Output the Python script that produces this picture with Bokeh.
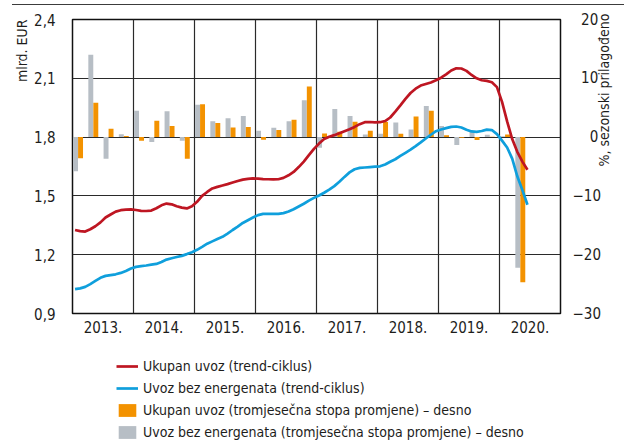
import math
from bokeh.plotting import figure
from bokeh.models import (Range1d, LinearAxis, FixedTicker, CustomJSTickFormatter,
                          Legend, LegendItem, ColumnDataSource, Div)
from bokeh.layouts import column
from bokeh.embed import file_html
from bokeh.resources import INLINE

FONT = "Liberation Sans Narrow, DejaVu Sans Condensed, Roboto Condensed, Liberation Sans, sans-serif"

# ---------------- data ----------------
years = [2013, 2014, 2015, 2016, 2017, 2018, 2019, 2020]
year_labels = ["2013.", "2014.", "2015.", "2016.", "2017.", "2018.", "2019.", "2020."]

# quarterly rate of change (%, right axis), 2013Q1 .. 2020Q2
quarters = [f"{y}Q{q}" for y in years for q in range(1, 5)][:30]
ukupan_q = [-3.6, 5.85, 1.4, 0.2,
            -0.6, 2.8, 1.9, -3.7,
            5.6, 2.4, 1.65, 1.7,
            -0.45, 1.2, 2.95, 8.6,
            0.6, 0.9, 2.6, 1.1,
            2.55, 0.55, 3.5, 4.5,
            0.3, -0.1, -0.5, 0.05,
            0.45, -24.7]
bez_energ_q = [-5.8, 14.0, -3.7, 0.5,
               4.5, -0.85, 4.4, -0.6,
               5.5, 2.7, 3.2, 3.6,
               1.1, 1.6, 2.7, 6.25,
               -1.8, 4.8, 3.6, 0.45,
               0.55, 2.5, 1.3, 5.3,
               1.9, -1.35, 1.0, 0.4,
               0.15, -22.2]

# monthly trend-cycle (mlrd. EUR, left axis), Jan 2013 .. Jun 2020
ukupan_trend = [1.326, 1.320, 1.318, 1.330, 1.345, 1.365, 1.390, 1.405, 1.420, 1.427, 1.430, 1.431,
                1.428, 1.424, 1.423, 1.425, 1.437, 1.452, 1.461, 1.457, 1.447, 1.440, 1.436, 1.447,
                1.470, 1.500, 1.520, 1.538, 1.546, 1.553, 1.560, 1.568, 1.576, 1.583, 1.587, 1.589,
                1.588, 1.586, 1.585, 1.584, 1.585, 1.592, 1.605, 1.622, 1.647, 1.675, 1.708, 1.740,
                1.767, 1.790, 1.802, 1.810, 1.820, 1.830, 1.840, 1.852, 1.866, 1.876, 1.877, 1.875,
                1.876, 1.882, 1.900, 1.930, 1.962, 1.995, 2.025, 2.047, 2.063, 2.071, 2.079, 2.090,
                2.103, 2.120, 2.140, 2.151, 2.150, 2.138, 2.117, 2.100, 2.090, 2.087, 2.080, 2.055,
                1.980, 1.880, 1.790, 1.725, 1.675, 1.633]
bez_energ_trend = [1.024, 1.028, 1.036, 1.050, 1.066, 1.082, 1.092, 1.096, 1.100, 1.107, 1.117, 1.130,
                   1.138, 1.142, 1.145, 1.149, 1.153, 1.163, 1.175, 1.182, 1.188, 1.194, 1.203, 1.213,
                   1.225, 1.240, 1.256, 1.268, 1.280, 1.291, 1.308, 1.326, 1.343, 1.362, 1.376, 1.390,
                   1.402, 1.408, 1.409, 1.408, 1.408, 1.412, 1.420, 1.432, 1.446, 1.460, 1.476, 1.490,
                   1.502, 1.516, 1.532, 1.550, 1.572, 1.597, 1.620, 1.636, 1.643, 1.645, 1.647, 1.649,
                   1.651, 1.660, 1.674, 1.687, 1.704, 1.720, 1.736, 1.754, 1.773, 1.793, 1.812, 1.830,
                   1.839, 1.846, 1.852, 1.854, 1.849, 1.838, 1.829, 1.827, 1.831, 1.838, 1.836, 1.815,
                   1.782, 1.747, 1.690, 1.600, 1.530, 1.455]

left_ticks = [0.9, 1.2, 1.5, 1.8, 2.1, 2.4]
right_ticks = [-30, -20, -10, 0, 10, 20]

left_title = "mlrd. EUR"
right_title = "%, sezonski prilagođeno"
legend_labels = ["Ukupan uvoz (trend-ciklus)",
                 "Uvoz bez energenata (trend-ciklus)",
                 "Ukupan uvoz (tromjesečna stopa promjene) – desno",
                 "Uvoz bez energenata (tromjesečna stopa promjene) – desno"]

# ---------------- colours ----------------
RED = "#be1622"
BLUE = "#0f9fdc"
ORANGE = "#f39200"
GREY = "#b7bec5"
TXT = "#1d1d1b"

# ---------------- positions ----------------
month_x = [2013 + (i + 0.5) / 12 for i in range(len(ukupan_trend))]
q_start = [int(q[:4]) + (int(q[-1]) - 1) / 4 for q in quarters]
bar_w = 0.081
grey_x = [s + 0.050 for s in q_start]
orange_x = [s + 0.132 for s in q_start]

p = figure(width=622, height=343, output_backend="svg", toolbar_location=None,
           x_range=Range1d(2013, 2021), y_range=Range1d(0.9, 2.4),
           min_border_left=72, min_border_right=58, min_border_top=14, min_border_bottom=35,
           background_fill_color="white", border_fill_color="white")
p.extra_y_ranges = {"pct": Range1d(-30, 20)}

p.outline_line_color = "#111111"
p.outline_line_width = 1.5

# grids
p.xgrid.ticker = FixedTicker(ticks=years[1:])
p.ygrid.ticker = FixedTicker(ticks=left_ticks)
for g in (p.xgrid, p.ygrid):
    g.grid_line_color = "#2a2a2a"
    g.grid_line_width = 1.2

# bars
src_bars = ColumnDataSource(dict(gx=grey_x, ox=orange_x, g=bez_energ_q, o=ukupan_q))
p.vbar(x="gx", top="g", bottom=0, width=bar_w, source=src_bars, y_range_name="pct",
       fill_color=GREY, line_color=None)
p.vbar(x="ox", top="o", bottom=0, width=bar_w, source=src_bars, y_range_name="pct",
       fill_color=ORANGE, line_color=None)

# lines
p.line(month_x, ukupan_trend, line_color=RED, line_width=2.7)
p.line(month_x, bez_energ_trend, line_color=BLUE, line_width=2.7)

# axes
xa = p.xaxis[0]
xa.ticker = FixedTicker(ticks=[y + 0.5 for y in years])
xa.major_label_overrides = {y + 0.5: lab for y, lab in zip(years, year_labels)}
xa.major_label_standoff = 7

ya = p.yaxis[0]
ya.ticker = FixedTicker(ticks=left_ticks)
ya.formatter = CustomJSTickFormatter(code="return tick.toFixed(1).replace('.', ',');")
ya.major_label_standoff = 17
ya.axis_label = left_title
ya.axis_label_align = "end"
ya.axis_label_orientation = math.pi / 2
ya.axis_label_standoff = 9

ra = LinearAxis(y_range_name="pct", ticker=FixedTicker(ticks=right_ticks))
ra.formatter = CustomJSTickFormatter(code="""
if (tick < 0) { return '\u2212' + Math.abs(tick); }
if (tick == 0) { return '\u2007\u20070'; }
return '\u2007' + tick;
""")
ra.major_label_standoff = 12
ra.axis_label = right_title
ra.axis_label_align = "center"
ra.axis_label_orientation = math.pi / 2
ra.axis_label_standoff = 0
p.add_layout(ra, "right")

for ax in (xa, ya, ra):
    ax.axis_line_color = None
    ax.major_tick_line_color = None
    ax.minor_tick_line_color = None
    ax.major_tick_out = 0
    ax.major_tick_in = 0
    ax.minor_tick_out = 0
    ax.minor_tick_in = 0
    ax.major_label_text_font = FONT
    ax.major_label_text_font_size = "15px"
    ax.major_label_text_color = TXT
    ax.axis_label_text_font = FONT
    ax.axis_label_text_font_size = "14px"
    ax.axis_label_text_font_style = "normal"
    ax.axis_label_text_color = TXT

# ---------------- legend panel (separate figure below) ----------------
lg = figure(width=622, height=92, output_backend="svg", toolbar_location=None,
            x_range=Range1d(0, 1), y_range=Range1d(0, 1),
            x_axis_location=None, y_axis_location=None, min_border=0,
            background_fill_color="white", border_fill_color="white")
lg.outline_line_color = None
lg.grid.visible = False
# swatch renderers sit outside the visible range; they only feed the legend
d_red = lg.line([-5, -4], [-5, -4], line_color=RED, line_width=2.7)
d_blue = lg.line([-5, -4], [-5, -4], line_color=BLUE, line_width=2.7)
d_orange = lg.vbar(x=[-5], top=[-4], bottom=-5, width=0.5, fill_color=ORANGE, line_color=None)
d_grey = lg.vbar(x=[-5], top=[-4], bottom=-5, width=0.5, fill_color=GREY, line_color=None)
legend = Legend(items=[LegendItem(label=t, renderers=[r]) for t, r in
                       zip(legend_labels, [d_red, d_blue, d_orange, d_grey])],
                location=(44, 0), orientation="vertical",
                glyph_width=22, glyph_height=16, label_height=16, label_standoff=5, spacing=6,
                padding=0, margin=0, background_fill_alpha=0, border_line_color=None,
                label_text_font=FONT, label_text_font_size="14px", label_text_color=TXT)
lg.add_layout(legend, "center")

rule = Div(text="", width=612, height=5, margin=(0, 0, 0, 12),
           styles={"border-bottom": "1.5px solid #3c3c3c", "box-sizing": "border-box"})

layout = column(rule, p, lg, spacing=0)
open("out.html", "w").write(file_html(layout, INLINE))
